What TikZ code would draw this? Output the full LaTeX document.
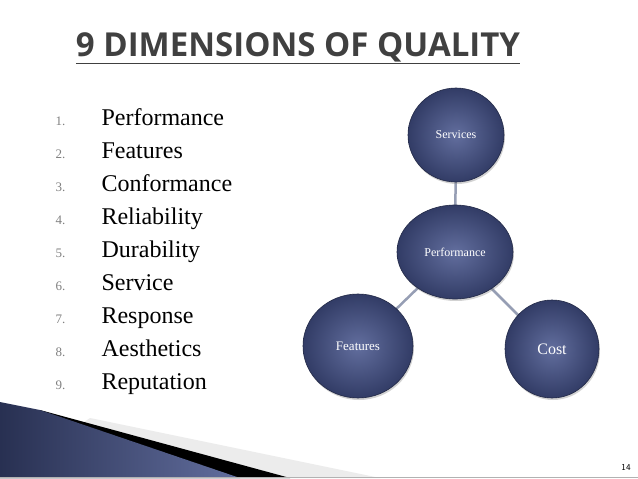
\documentclass[tikz,border=0pt]{standalone}
\usepackage{fontspec}
\setmainfont{Liberation Serif}
\newfontfamily\titlefont{Open Sans}
\usetikzlibrary{shadows,shapes.geometric}
\pgfdeclarelayer{bg}
\pgfsetlayers{bg,main}
\definecolor{ball}{RGB}{50,60,102}
\definecolor{ballhi}{RGB}{98,110,158}
\definecolor{titlec}{RGB}{64,64,64}
\definecolor{linkc}{RGB}{150,158,180}
\tikzset{
 ballnode/.style={ellipse,inner sep=0pt,shade,inner color=ballhi,outer color=ball,draw=ball!70!black,line width=0.6pt,drop shadow={opacity=0.35,shadow xshift=1pt,shadow yshift=-2pt},text=white},
 link/.style={line width=2.5pt,draw=linkc},
 num/.style={anchor=base west,font=\fontsize{13}{15}\selectfont,text=gray},
 item/.style={anchor=base west,font=\fontsize{24}{28}\selectfont}
}
\begin{document}
\begin{tikzpicture}[x=1pt,y=-1pt]
\useasboundingbox (0,0) rectangle (638,479);
\begin{pgfonlayer}{bg}
\fill[white] (0,0) rectangle (638,479);
\end{pgfonlayer}
% bottom decoration
\fill[gray!15] (90,418) -- (380,478) -- (0,478) -- cycle;
\fill[black] (40,410) -- (290,478) -- (0,478) -- cycle;
\shade[left color=ball!80!black,right color=ballhi] (0,402) -- (0,478) -- (240,478) -- (40,410) -- cycle;
\draw[gray!60,line width=1pt] (0,477.5) -- (638,477.5);
% title
\node (title) [font=\titlefont\bfseries\fontsize{33}{38}\selectfont,text=titlec,anchor=center] at (298,48) {\underline{9 DIMENSIONS OF QUALITY}};
% list
\foreach \i/\t in {1/Performance,2/Features,3/Conformance,4/Reliability,5/Durability,6/Service,7/Response,8/Aesthetics,9/Reputation}{
 \node (n\i) [num] at (52,{125+(\i-1)*33.1}) {\i.};
 \node (t\i) [item] at (98,{125+(\i-1)*33.1}) {\t};
}
% circles
\node (perf) [ballnode,minimum width=116pt,minimum height=94pt,font=\fontsize{12}{14}\selectfont] at (455,252) {Performance};
\node (serv) [ballnode,minimum width=96pt,minimum height=94pt,font=\fontsize{12}{14}\selectfont] at (456,135) {Services};
\node (feat) [ballnode,minimum width=110pt,minimum height=104pt,font=\fontsize{13}{15}\selectfont] at (358,346) {Features};
\node (cost) [ballnode,minimum width=94pt,minimum height=98pt,font=\fontsize{16}{18}\selectfont] at (552,349) {Cost};
\begin{pgfonlayer}{bg}
\draw[link] (perf.center) -- (serv.center);
\draw[link] (perf.center) -- (feat.center);
\draw[link] (perf.center) -- (cost.center);
\end{pgfonlayer}
\node (pg) [font=\sffamily\fontsize{9}{10}\selectfont] at (626,467) {14};
\end{tikzpicture}
\end{document}
